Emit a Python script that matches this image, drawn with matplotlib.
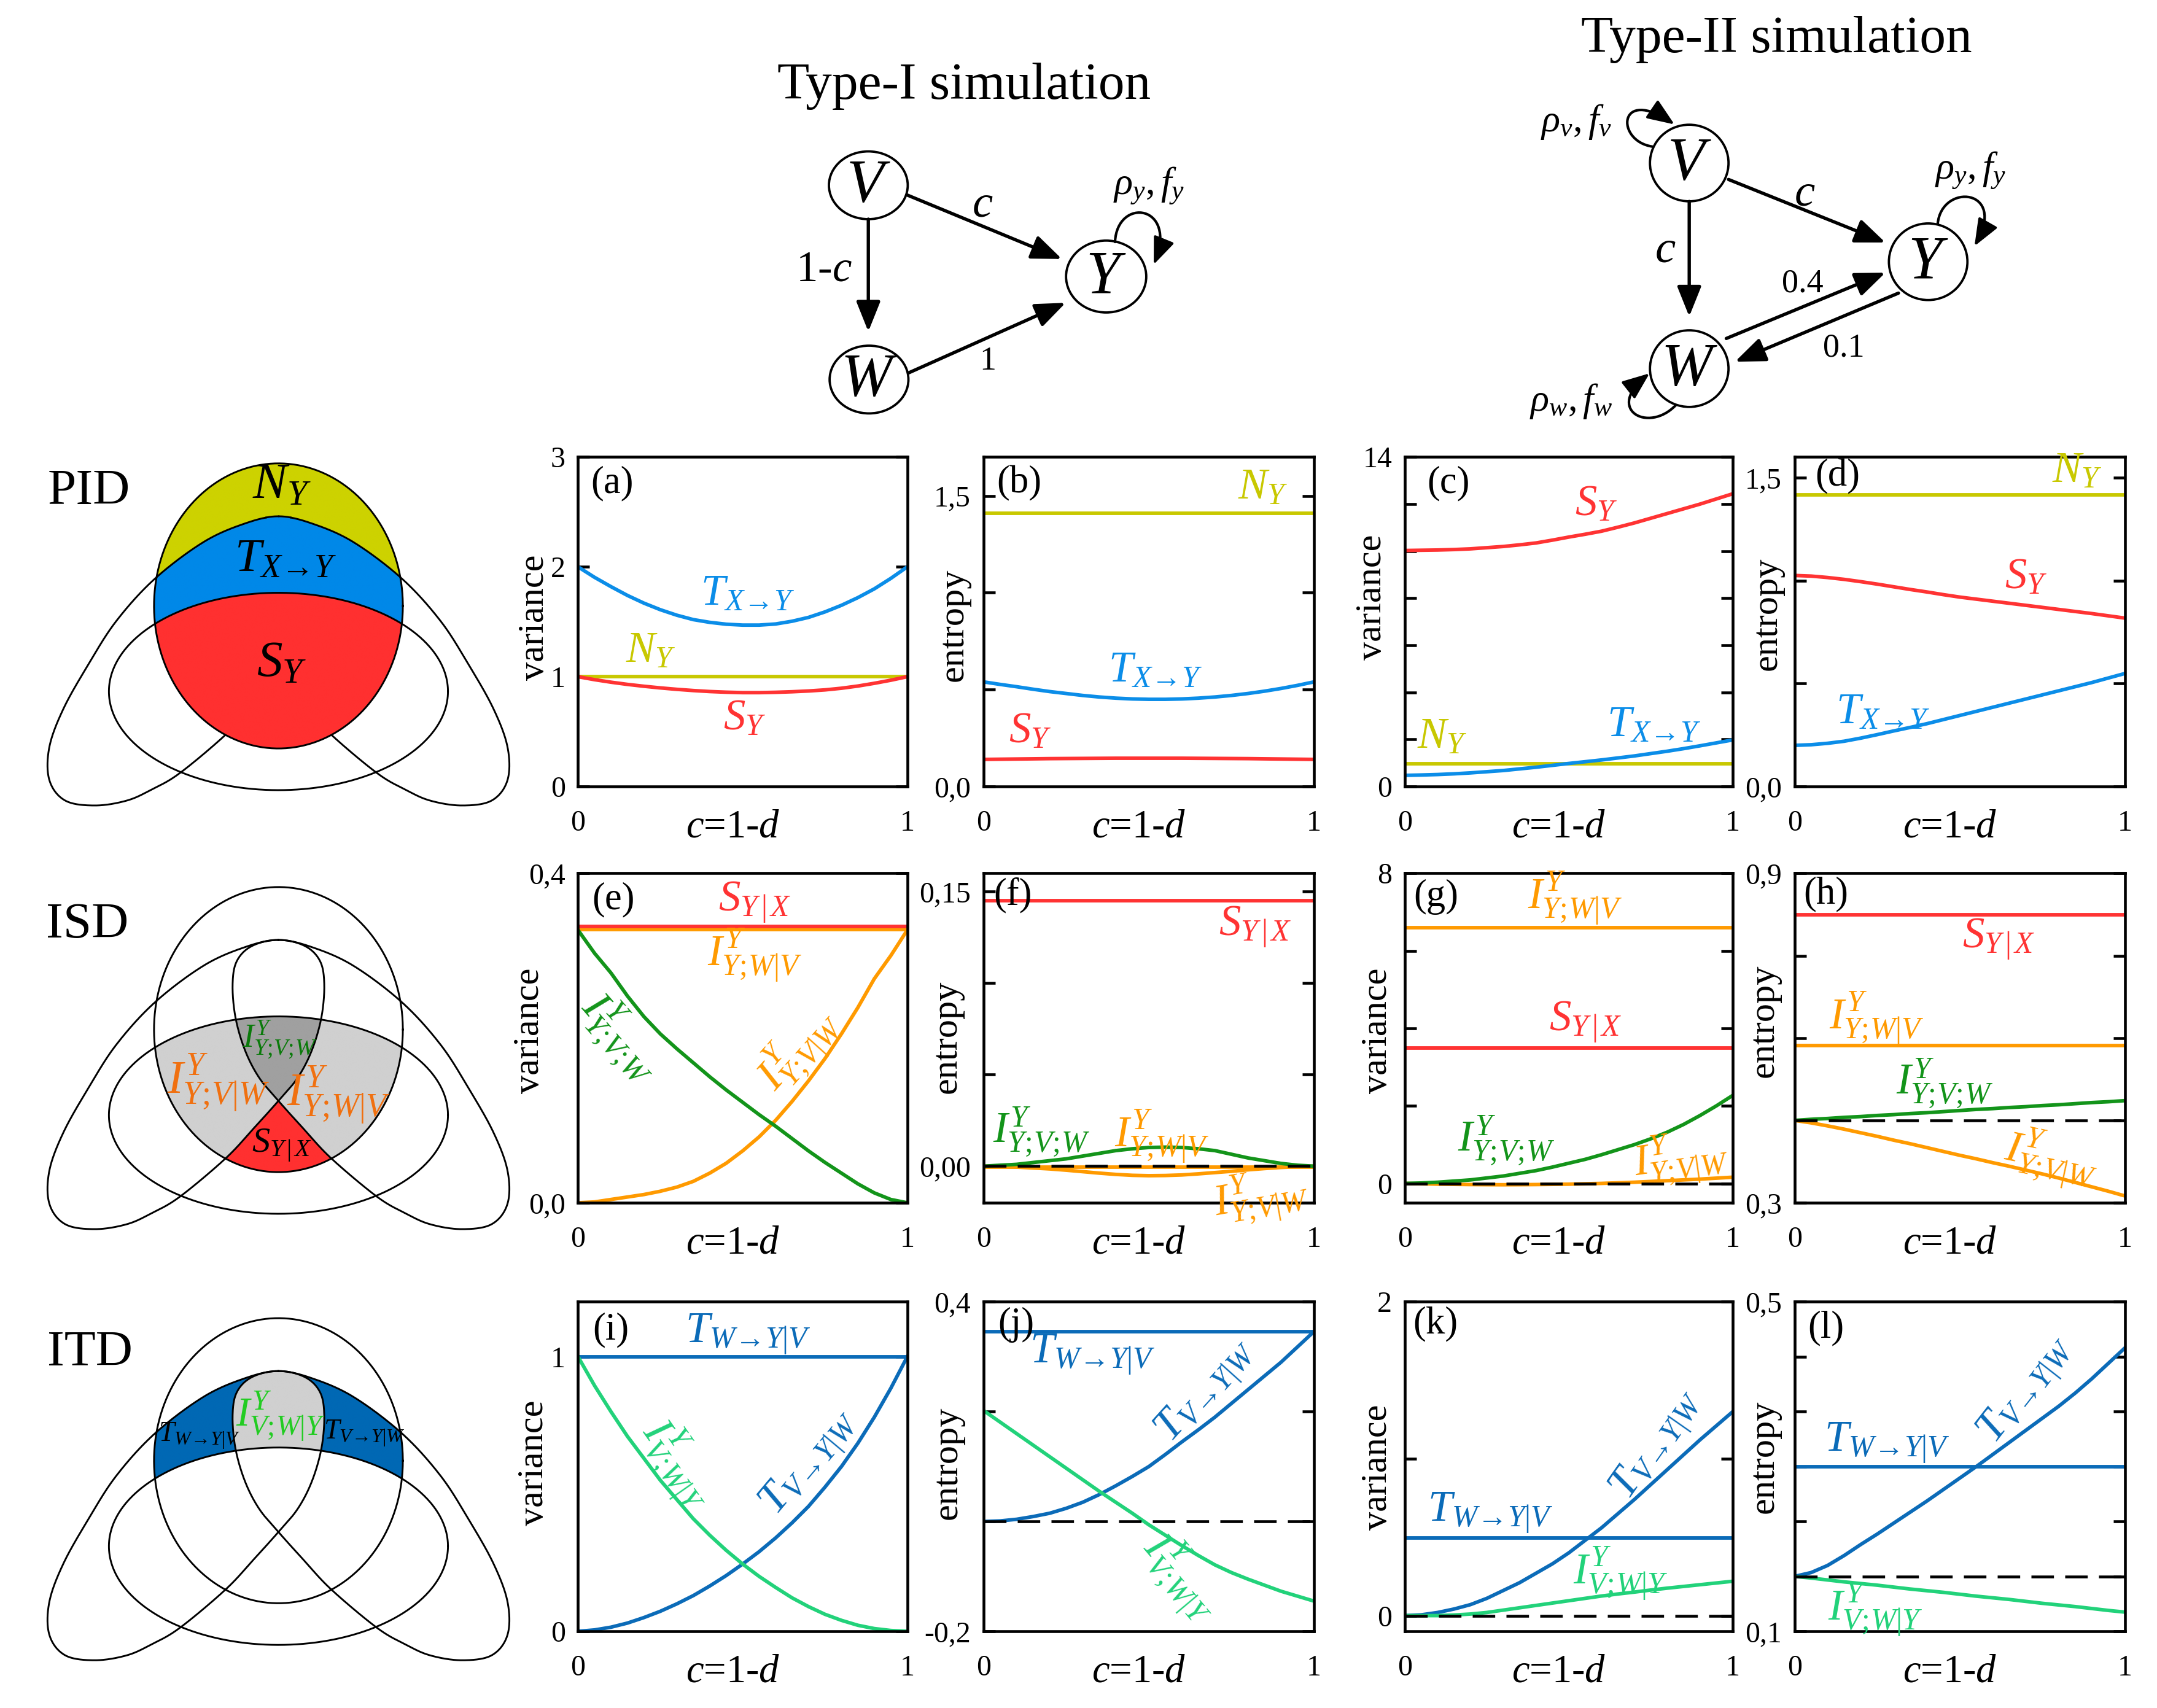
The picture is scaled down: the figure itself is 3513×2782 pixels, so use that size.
import numpy as np
import matplotlib
matplotlib.use('Agg')
import matplotlib.pyplot as plt
from matplotlib.path import Path
from matplotlib.patches import Ellipse, FancyArrowPatch
from matplotlib.colors import to_rgba

plt.rcParams['font.family'] = ['Liberation Serif', 'DejaVu Serif']
plt.rcParams['mathtext.fontset'] = 'custom'
plt.rcParams['mathtext.rm'] = 'Liberation Serif'
plt.rcParams['mathtext.it'] = 'Liberation Serif:italic'
plt.rcParams['mathtext.bf'] = 'Liberation Serif:bold'

# ---------------- data (x axis: c = 1-d) ----------------
c = [0.0, 0.05, 0.1, 0.15, 0.2, 0.25, 0.3, 0.35, 0.4, 0.45, 0.5,
     0.55, 0.6, 0.65, 0.7, 0.75, 0.8, 0.85, 0.9, 0.95, 1.0]

# Type-I, PID
a_T = [2.0, 1.905, 1.82, 1.74, 1.67, 1.61, 1.56, 1.52, 1.495, 1.478, 1.47,
       1.47, 1.48, 1.505, 1.54, 1.59, 1.65, 1.72, 1.80, 1.895, 2.0]
a_S = [1.0, 0.973, 0.95, 0.93, 0.913, 0.898, 0.885, 0.874, 0.865, 0.859, 0.855,
       0.855, 0.858, 0.863, 0.87, 0.88, 0.895, 0.915, 0.94, 0.968, 1.0]
a_N = 1.0
b_T = [0.54, 0.527, 0.515, 0.502, 0.49, 0.48, 0.47, 0.462, 0.456, 0.452, 0.45,
       0.45, 0.452, 0.456, 0.462, 0.47, 0.48, 0.492, 0.506, 0.522, 0.54]
b_S = [0.14, 0.141, 0.142, 0.143, 0.144, 0.1445, 0.145, 0.1455, 0.146, 0.146, 0.146,
       0.146, 0.146, 0.1455, 0.145, 0.1445, 0.144, 0.143, 0.142, 0.141, 0.14]
b_N = 1.41
# Type-II, PID
c_S = [10.03, 10.04, 10.05, 10.07, 10.1, 10.15, 10.2, 10.27, 10.35, 10.47, 10.6,
       10.72, 10.85, 11.02, 11.2, 11.4, 11.6, 11.8, 12.0, 12.22, 12.44]
c_T = [0.475, 0.49, 0.51, 0.54, 0.58, 0.63, 0.68, 0.75, 0.82, 0.90, 0.98,
       1.055, 1.13, 1.215, 1.30, 1.40, 1.50, 1.61, 1.73, 1.855, 1.98]
c_N = 0.98
d_S = [1.025, 1.022, 1.015, 1.006, 0.995, 0.983, 0.97, 0.957, 0.945, 0.932, 0.92,
       0.91, 0.90, 0.89, 0.88, 0.87, 0.86, 0.85, 0.84, 0.829, 0.818]
d_T = [0.20, 0.203, 0.21, 0.22, 0.235, 0.252, 0.27, 0.287, 0.305, 0.325, 0.345,
       0.365, 0.385, 0.405, 0.425, 0.445, 0.465, 0.485, 0.505, 0.527, 0.549]
d_N = 1.418
# Type-I, ISD
e_S = 0.3354
e_IWV = 0.3315
e_IVW = [0.0, 0.001, 0.004, 0.007, 0.010, 0.014, 0.019, 0.026, 0.036, 0.048, 0.063,
         0.08, 0.10, 0.123, 0.148, 0.175, 0.205, 0.237, 0.272, 0.30, 0.331]
e_IVxW = [0.331, 0.303, 0.279, 0.251, 0.226, 0.205, 0.187, 0.17, 0.153, 0.137, 0.122,
          0.107, 0.093, 0.078, 0.063, 0.049, 0.036, 0.023, 0.012, 0.004, 0.0]
f_S = 0.145
f_IWV = -0.0004
f_IVW = [0.0, -0.0002, -0.0005, -0.001, -0.0015, -0.0022, -0.003, -0.0038, -0.0045, -0.005, -0.0052,
         -0.0051, -0.0048, -0.0042, -0.0035, -0.0028, -0.002, -0.0013, -0.0007, -0.0003, 0.0]
f_IVxW = [0.0, 0.0005, 0.001, 0.002, 0.003, 0.004, 0.0055, 0.007, 0.0085, 0.0095, 0.0102,
          0.0104, 0.0102, 0.0095, 0.0085, 0.0065, 0.0045, 0.003, 0.0015, 0.0005, 0.0]
# Type-II, ISD
g_IWV = 6.59
g_S = 3.50
g_IVxW = [0.0, 0.01, 0.03, 0.06, 0.09, 0.14, 0.19, 0.26, 0.33, 0.42, 0.52,
          0.62, 0.74, 0.87, 1.0, 1.15, 1.32, 1.52, 1.75, 2.0, 2.27]
g_IVW = [0.0, -0.01, -0.02, -0.025, -0.03, -0.033, -0.035, -0.033, -0.03, -0.025, -0.02,
         -0.01, 0.0, 0.015, 0.03, 0.05, 0.07, 0.09, 0.11, 0.135, 0.16]
h_S = 0.749
h_IWV = 0.273
h_IVxW = [0.0, 0.004, 0.007, 0.011, 0.014, 0.018, 0.021, 0.025, 0.028, 0.032, 0.036,
          0.040, 0.043, 0.047, 0.050, 0.054, 0.057, 0.061, 0.065, 0.068, 0.072]
h_IVW = [0.0, -0.009, -0.02, -0.032, -0.045, -0.058, -0.072, -0.085, -0.099, -0.113, -0.127,
         -0.14, -0.154, -0.167, -0.181, -0.195, -0.21, -0.226, -0.242, -0.258, -0.275]
# Type-I, ITD
i_TW = 1.0
i_TV = [0.0, 0.005, 0.015, 0.03, 0.05, 0.073, 0.10, 0.13, 0.165, 0.203, 0.245,
        0.29, 0.34, 0.395, 0.455, 0.525, 0.60, 0.685, 0.78, 0.885, 1.0]
i_I = [1.0, 0.895, 0.80, 0.71, 0.63, 0.55, 0.48, 0.41, 0.35, 0.295, 0.245,
       0.20, 0.16, 0.122, 0.09, 0.062, 0.04, 0.022, 0.01, 0.003, 0.0]
j_TW = 0.346
j_TV = [0.0, 0.001, 0.004, 0.009, 0.015, 0.024, 0.035, 0.049, 0.065, 0.082, 0.10,
        0.122, 0.145, 0.167, 0.19, 0.215, 0.24, 0.265, 0.29, 0.318, 0.346]
j_I = [0.202, 0.181, 0.16, 0.139, 0.118, 0.097, 0.076, 0.055, 0.035, 0.015, -0.006,
       -0.025, -0.044, -0.062, -0.079, -0.093, -0.105, -0.116, -0.127, -0.136, -0.145]
# Type-II, ITD
k_TW = 0.495
k_TV = [0.0, 0.005, 0.02, 0.042, 0.07, 0.11, 0.16, 0.21, 0.27, 0.33, 0.40,
        0.48, 0.56, 0.65, 0.74, 0.835, 0.93, 1.025, 1.12, 1.21, 1.30]
k_I = [0.0, 0.0, 0.0, 0.004, 0.01, 0.02, 0.035, 0.05, 0.065, 0.08, 0.095,
       0.11, 0.125, 0.138, 0.15, 0.163, 0.175, 0.186, 0.197, 0.208, 0.219]
l_TW = 0.2
l_TV = [0.0, 0.007, 0.02, 0.038, 0.058, 0.077, 0.097, 0.117, 0.137, 0.158, 0.179,
        0.2, 0.222, 0.244, 0.266, 0.288, 0.31, 0.334, 0.36, 0.388, 0.416]
l_I = [0.0, -0.003, -0.0065, -0.01, -0.013, -0.016, -0.0195, -0.023, -0.026, -0.029, -0.0325,
       -0.036, -0.039, -0.042, -0.0455, -0.049, -0.052, -0.055, -0.0585, -0.062, -0.065]

# ---------------- styles ----------------
RED = '#ff3333'
PBLUE = '#0b8de8'
YEL = '#c8c800'
ORANGE = '#ff9a00'
DGREEN = '#13941a'
TBLUE = '#0b6bb8'
LGREEN = '#22d27a'
LW = 1.4
LBL = 17

fig = plt.figure(figsize=(3513 / 300, 2782 / 300), dpi=300)

# overlay in "display pixel" units for the diagrams
ov = fig.add_axes([0, 0, 1, 1])
ov.set_xlim(0, 1560)
ov.set_ylim(1235.3, 0)
ov.axis('off')

# ---------------- network diagrams ----------------
ARW = '-|>,head_length=0.5,head_width=0.2'


def node(x, y, name, rx, ry):
    ov.add_patch(Ellipse((x, y), 2 * rx, 2 * ry, fill=False, lw=0.9, ec='k'))
    ov.text(x, y + 1, '$%s$' % name, fontsize=24, ha='center', va='center')


def arrow(p, q):
    ov.add_patch(FancyArrowPatch(p, q, arrowstyle=ARW, mutation_scale=20,
                                 lw=1.3, color='k', shrinkA=0, shrinkB=0))


def loop(p0, p1, p2, p3):
    path = Path([p0, p1, p2, p3], [Path.MOVETO, Path.CURVE4, Path.CURVE4, Path.CURVE4])
    ov.add_patch(FancyArrowPatch(path=path, arrowstyle=ARW, mutation_scale=18,
                                 lw=1.0, color='k'))


ov.text(697, 71.4, 'Type-I simulation', fontsize=20.5, ha='center', va='baseline')
node(628, 134, 'V', 28.5, 24.5)
node(628.5, 274.5, 'W', 28.5, 24.5)
node(800, 200, 'Y', 29, 26)
arrow((656, 141), (768, 187.3))
arrow((628, 158.5), (628, 239.8))
arrow((657.3, 269.6), (770.7, 219))
loop((806.4, 175), (808, 142), (852, 148), (834.4, 191.3))
ov.text(710.8, 148.7, '$c$', fontsize=18, ha='center', va='center')
ov.text(596, 195.2, '$1$-$c$', fontsize=17, ha='center', va='center')
ov.text(714.6, 261.6, '1', fontsize=13, ha='center', va='center')
ov.text(831, 134, r'$\rho_y, f_y$', fontsize=15, ha='center', va='center')

ov.text(1284.8, 37.7, 'Type-II simulation', fontsize=20.5, ha='center', va='baseline')
node(1221.7, 117.9, 'V', 28.4, 27.7)
node(1221.7, 266.6, 'W', 28.4, 27.7)
node(1394.5, 189.3, 'Y', 28.4, 27.7)
arrow((1250.1, 129.8), (1363.6, 175.4))
arrow((1221.7, 145.7), (1221.7, 228.9))
arrow((1248.5, 244.8), (1363.6, 197.2))
arrow((1373, 212), (1254.8, 261.6))
loop((1195, 106), (1168, 102), (1170, 62), (1211, 90))
loop((1212, 293), (1192, 314), (1160, 296), (1193, 270))
loop((1401.4, 162), (1404, 132), (1452, 136), (1428, 178))
ov.text(1305.3, 140.7, '$c$', fontsize=18, ha='center', va='center')
ov.text(1204.4, 181.4, '$c$', fontsize=18, ha='center', va='center')
ov.text(1303.7, 205.1, '0.4', fontsize=13, ha='center', va='center')
ov.text(1333.6, 251.7, '0.1', fontsize=13, ha='center', va='center')
ov.text(1140, 88, r'$\rho_v, f_v$', fontsize=15, ha='center', va='center')
ov.text(1136, 290, r'$\rho_w, f_w$', fontsize=15, ha='center', va='center')
ov.text(1425, 123, r'$\rho_y, f_y$', fontsize=15, ha='center', va='center')

# ---------------- Venn-type diagrams ----------------
SX, SY = 0.2549, 0.19825
EGG = (790, 665, 353, 520)
HOR = (790, 977, 481, 360)
PETAL_R = [(790, 338), (880, 362), (1000, 430), (1140, 565), (1250, 720), (1330, 880),
           (1400, 1040), (1440, 1180), (1440, 1300), (1395, 1375), (1310, 1393),
           (1220, 1375), (1150, 1335), (1070, 1275), (940, 1135), (860, 1025),
           (790, 925), (735, 840), (695, 740), (668, 620), (660, 500), (672, 415),
           (715, 360)]


def ellipse_pts(cx, cy, rx, ry, n=500):
    t = np.linspace(0, 2 * np.pi, n)
    return np.column_stack([cx + rx * np.cos(t), cy + ry * np.sin(t)])


def closed_spline(pts, n=40):
    pts = np.asarray(pts, float)
    P = np.vstack([pts[-1], pts, pts[0], pts[1]])
    t = np.linspace(0, 1, n, endpoint=False)[:, None]
    segs = []
    for i in range(1, len(pts) + 1):
        p0, p1, p2, p3 = P[i - 1], P[i], P[i + 1], P[i + 2]
        segs.append(0.5 * (2 * p1 + (-p0 + p2) * t + (2 * p0 - 5 * p1 + 4 * p2 - p3) * t ** 2
                           + (-p0 + 3 * p1 - 3 * p2 + p3) * t ** 3))
    out = np.vstack(segs)
    return np.vstack([out, out[:1]])


def venn(y0, kind):
    def disp(p):
        return np.column_stack([p[:, 0] * SX, y0 + p[:, 1] * SY])
    E = disp(ellipse_pts(*EGG))
    Hh = disp(ellipse_pts(*HOR))
    Rl = closed_spline(PETAL_R)
    Ll = Rl.copy()
    Ll[:, 0] = 1580 - Ll[:, 0]
    R = disp(Rl)
    L = disp(Ll)
    pE, pH, pR, pL = Path(E), Path(Hh), Path(R), Path(L)

    xs = np.linspace(105, 298, 640)
    ys = np.linspace(y0 + 22, y0 + 242, 740)
    X, Y = np.meshgrid(xs, ys)
    P = np.column_stack([X.ravel(), Y.ravel()])
    inE = pE.contains_points(P).reshape(X.shape)
    inH = pH.contains_points(P).reshape(X.shape)
    inR = pR.contains_points(P).reshape(X.shape)
    inL = pL.contains_points(P).reshape(X.shape)
    img = np.zeros(X.shape + (4,))
    if kind == 'PID':
        img[inE & ~inH & ~(inR | inL)] = to_rgba('#cdd200')
        img[inE & ~inH & (inR | inL)] = to_rgba('#0088e8')
        img[inE & inH] = to_rgba('#ff3030')
    elif kind == 'ISD':
        img[inE & inH & (inR ^ inL)] = to_rgba('#d0d0d0')
        img[inE & inH & inR & inL] = to_rgba('#a0a0a0')
        img[inE & inH & ~inR & ~inL] = to_rgba('#ff3030')
    else:
        img[inE & ~inH & (inR ^ inL)] = to_rgba('#0068b4')
        img[inE & ~inH & inR & inL] = to_rgba('#d0d0d0')
    ov.imshow(img, extent=(xs[0], xs[-1], ys[-1], ys[0]), origin='upper',
              aspect='auto', zorder=1)

    for curve, other in ((R, pL), (L, pR)):
        cv = curve.copy()
        if kind == 'PID':
            hide = pE.contains_points(cv) & (other.contains_points(cv) | pH.contains_points(cv))
            cv[hide] = np.nan
        ov.plot(cv[:, 0], cv[:, 1], color='k', lw=0.7, zorder=2)
    ov.plot(E[:, 0], E[:, 1], color='k', lw=0.7, zorder=2)
    ov.plot(Hh[:, 0], Hh[:, 1], color='k', lw=0.7, zorder=2)


venn(306.4, 'PID')
venn(612.8, 'ISD')
venn(924.6, 'ITD')

ov.text(64.2, 364.4, 'PID', fontsize=20, ha='center', va='baseline')
ov.text(63, 678.2, 'ISD', fontsize=20, ha='center', va='baseline')
ov.text(65, 987.4, 'ITD', fontsize=20, ha='center', va='baseline')

# label strings (literal arrow avoids mathtext relation spacing, \! removes ';' spacing)
TXY = r'$T_{X→Y}$'
SYX = r'$S_{Y\,|\,X}$'
IWV = r'$I^{Y}_{Y;\!W|V}$'
IVW = r'$I^{Y}_{Y;\!V|W}$'
IVxW = r'$I^{Y}_{Y;\!V;\!W}$'
TW = r'$T_{W→Y|V}$'
TV = r'$T_{V→Y|W}$'
IVWY = r'$I^{Y}_{V;\!W|Y}$'

ov.text(203.9, 351.6, '$N_Y$', fontsize=20, ha='center', va='center', zorder=3)
ov.text(206.5, 405.1, TXY, fontsize=18.5, ha='center', va='center', zorder=3)
ov.text(203.9, 480.4, '$S_Y$', fontsize=20, ha='center', va='center', zorder=3)

ov.text(202.6, 751.6, IVxW, fontsize=13, color='#0a7a0a', ha='center', va='center', zorder=3)
ov.text(158, 783.3, IVW, fontsize=18.5, color='#f07010', ha='center', va='center', zorder=3)
ov.text(244.7, 792.2, IWV, fontsize=18.5, color='#f07010', ha='center', va='center', zorder=3)
ov.text(203.9, 828.9, SYX, fontsize=14, ha='center', va='center', zorder=3)

ov.text(144, 1038.6, TW, fontsize=11, ha='center', va='center', zorder=3)
ov.text(202.6, 1024.7, IVWY, fontsize=16, color='#22cc22', ha='center', va='center', zorder=3)
ov.text(263.5, 1036.6, TV, fontsize=11, ha='center', va='center', zorder=3)

# ---------------- panels ----------------
COLS = [(0.2680, 0.1526), (0.4560, 0.1532), (0.6513, 0.1520), (0.8320, 0.1531)]
ROWS = [0.5395, 0.2958, 0.0449]
H_AX = 0.1929


def panel(col, row, ylim, yticks, ylabels, ylab, ylab_xy, letter, letter_xy):
    l, w = COLS[col]
    ax = fig.add_axes([l, ROWS[row], w, H_AX])
    ax.set_xlim(0, 1)
    ax.set_ylim(*ylim)
    ax.set_xticks([0, 1])
    ax.set_xticklabels(['0', '1'])
    ax.set_yticks(yticks)
    ax.set_yticklabels(ylabels)
    ax.tick_params(axis='x', length=0, pad=9, labelsize=11.5)
    ax.tick_params(axis='y', direction='in', left=True, right=True, length=4.5,
                   width=1.1, pad=5, labelsize=11.5)
    for s in ax.spines.values():
        s.set_linewidth(1.1)
    ax.text(ylab_xy[0], ylab_xy[1], ylab, rotation=90, fontsize=14.5,
            ha='center', va='center', transform=ax.transAxes)
    ax.text(0.47, -0.125, '$c$=1-$d$', fontsize=15.5, ha='center', va='center',
            transform=ax.transAxes)
    ax.text(letter_xy[0], letter_xy[1], letter, fontsize=15, ha='left', va='center',
            transform=ax.transAxes)
    return ax


def lab(ax, x, y, s, col, rot=0, size=LBL):
    ax.text(x, y, s, color=col, fontsize=size, ha='center', va='center',
            rotation=rot, rotation_mode='anchor')


def zero(ax):
    ax.axhline(0, color='k', lw=1.1, ls=(0, (8, 4)), zorder=3)


# (a)
ax = panel(0, 0, (0, 3), [0, 1, 2, 3], ['0', '1', '2', '3'], 'variance', (-0.131, 0.513), '(a)', (0.038, 0.919))
ax.axhline(a_N, color=YEL, lw=LW)
ax.plot(c, a_S, color=RED, lw=LW)
ax.plot(c, a_T, color=PBLUE, lw=LW)
lab(ax, 0.515, 1.75, TXY, PBLUE)
lab(ax, 0.22, 1.23, '$N_Y$', YEL)
lab(ax, 0.506, 0.62, '$S_Y$', RED)

# (b)
ax = panel(1, 0, (0, 1.7), [0, 0.5, 1.0, 1.5], ['0,0', '', '', '1,5'], 'entropy', (-0.089, 0.49), '(b)', (0.04, 0.92))
ax.axhline(b_N, color=YEL, lw=LW)
ax.plot(c, b_T, color=PBLUE, lw=LW)
ax.plot(c, b_S, color=RED, lw=LW)
lab(ax, 0.846, 1.54, '$N_Y$', YEL)
lab(ax, 0.52, 0.597, TXY, PBLUE)
lab(ax, 0.14, 0.284, '$S_Y$', RED)

# (c)
ax = panel(2, 0, (0, 14), list(range(0, 15, 2)), ['0', '', '', '', '', '', '', '14'], 'variance', (-0.099, 0.574), '(c)', (0.067, 0.919))
ax.plot(c, c_S, color=RED, lw=LW)
ax.axhline(c_N, color=YEL, lw=LW)
ax.plot(c, c_T, color=PBLUE, lw=LW)
lab(ax, 0.583, 12.0, '$S_Y$', RED)
lab(ax, 0.113, 2.1, '$N_Y$', YEL)
lab(ax, 0.76, 2.6, TXY, PBLUE)

# (d)
ax = panel(3, 0, (0, 1.6), [0, 0.5, 1.0, 1.5], ['0,0', '', '', '1,5'], 'entropy', (-0.083, 0.524), '(d)', (0.062, 0.94))
ax.axhline(d_N, color=YEL, lw=LW)
ax.plot(c, d_S, color=RED, lw=LW)
ax.plot(c, d_T, color=PBLUE, lw=LW)
lab(ax, 0.855, 1.53, '$N_Y$', YEL)
lab(ax, 0.70, 1.016, '$S_Y$', RED)
lab(ax, 0.268, 0.358, TXY, PBLUE)

# (e)
ax = panel(0, 1, (0, 0.4), [0, 0.4], ['0,0', '0,4'], 'variance', (-0.147, 0.522), '(e)', (0.042, 0.919))
ax.axhline(e_IWV, color=ORANGE, lw=LW)
ax.axhline(e_S, color=RED, lw=LW)
ax.plot(c, e_IVW, color=ORANGE, lw=LW)
ax.plot(c, e_IVxW, color=DGREEN, lw=LW)
lab(ax, 0.537, 0.364, SYX, RED)
lab(ax, 0.537, 0.300, IWV, ORANGE)
lab(ax, 0.127, 0.20, IVxW, DGREEN, rot=-49)
lab(ax, 0.673, 0.185, IVW, ORANGE, rot=48)

# (f)
ax = panel(1, 1, (-0.02, 0.16), [0, 0.05, 0.10, 0.15], ['0,00', '', '', '0,15'], 'entropy', (-0.110, 0.504), '(f)', (0.031, 0.934))
ax.axhline(f_S, color=RED, lw=LW)
ax.axhline(f_IWV, color=ORANGE, lw=LW)
ax.plot(c, f_IVW, color=ORANGE, lw=LW)
ax.plot(c, f_IVxW, color=DGREEN, lw=LW)
zero(ax)
lab(ax, 0.823, 0.1305, SYX, RED)
lab(ax, 0.176, 0.0188, IVxW, DGREEN)
lab(ax, 0.539, 0.016, IWV, ORANGE)
lab(ax, 0.84, -0.0171, IVW, ORANGE, rot=10)

# (g)
ax = panel(2, 1, (-0.5, 8), [0, 2, 4, 6, 8], ['0', '', '', '', '8'], 'variance', (-0.083, 0.522), '(g)', (0.027, 0.929))
ax.axhline(g_IWV, color=ORANGE, lw=LW)
ax.axhline(g_S, color=RED, lw=LW)
ax.plot(c, g_IVW, color=ORANGE, lw=LW)
ax.plot(c, g_IVxW, color=DGREEN, lw=LW)
zero(ax)
lab(ax, 0.52, 7.35, IWV, ORANGE)
lab(ax, 0.552, 4.15, SYX, RED)
lab(ax, 0.309, 1.11, IVxW, DGREEN)
lab(ax, 0.842, 0.63, IVW, ORANGE, rot=8)

# (h)
ax = panel(3, 1, (-0.3, 0.9), [-0.3, 0, 0.3, 0.6, 0.9], ['0,3', '', '', '', '0,9'], 'entropy', (-0.091, 0.552), '(h)', (0.026, 0.937))
ax.axhline(h_S, color=RED, lw=LW)
ax.axhline(h_IWV, color=ORANGE, lw=LW)
ax.plot(c, h_IVW, color=ORANGE, lw=LW)
ax.plot(c, h_IVxW, color=DGREEN, lw=LW)
zero(ax)
lab(ax, 0.618, 0.659, SYX, RED)
lab(ax, 0.248, 0.371, IWV, ORANGE)
lab(ax, 0.455, 0.135, IVxW, DGREEN)
lab(ax, 0.777, -0.142, IVW, ORANGE, rot=-12)

# (i)
ax = panel(0, 2, (0, 1.2), [0, 1], ['0', '1'], 'variance', (-0.133, 0.511), '(i)', (0.044, 0.914))
ax.axhline(i_TW, color=TBLUE, lw=LW)
ax.plot(c, i_TV, color=TBLUE, lw=LW)
ax.plot(c, i_I, color=LGREEN, lw=LW)
lab(ax, 0.516, 1.08, TW, TBLUE)
lab(ax, 0.30, 0.608, IVWY, LGREEN, rot=-55)
lab(ax, 0.705, 0.611, TV, TBLUE, rot=50)

# (j)
ax = panel(1, 2, (-0.2, 0.4), [-0.2, 0, 0.2, 0.4], ['-0,2', '', '', '0,4'], 'entropy', (-0.108, 0.511), '(j)', (0.044, 0.931))
ax.axhline(j_TW, color=TBLUE, lw=LW)
ax.plot(c, j_TV, color=TBLUE, lw=LW)
ax.plot(c, j_I, color=LGREEN, lw=LW)
zero(ax)
lab(ax, 0.33, 0.304, TW, TBLUE)
lab(ax, 0.676, 0.236, TV, TBLUE, rot=48)
lab(ax, 0.595, -0.103, IVWY, LGREEN, rot=-50)

# (k)
ax = panel(2, 2, (-0.1, 2), [0, 1, 2], ['0', '', '2'], 'variance', (-0.083, 0.499), '(k)', (0.024, 0.932))
ax.axhline(k_TW, color=TBLUE, lw=LW)
ax.plot(c, k_TV, color=TBLUE, lw=LW)
ax.plot(c, k_I, color=LGREEN, lw=LW)
zero(ax)
lab(ax, 0.262, 0.652, TW, TBLUE)
lab(ax, 0.771, 1.084, TV, TBLUE, rot=55)
lab(ax, 0.658, 0.267, IVWY, LGREEN)

# (l)
ax = panel(3, 2, (-0.1, 0.5), [-0.1, 0, 0.1, 0.2, 0.3, 0.4, 0.5], ['0,1', '', '', '', '', '', '0,5'], 'entropy', (-0.091, 0.529), '(l)', (0.039, 0.919))
ax.axhline(l_TW, color=TBLUE, lw=LW)
ax.plot(c, l_TV, color=TBLUE, lw=LW)
ax.plot(c, l_I, color=LGREEN, lw=LW)
zero(ax)
lab(ax, 0.28, 0.243, TW, TBLUE)
lab(ax, 0.704, 0.338, TV, TBLUE, rot=52)
lab(ax, 0.245, -0.061, IVWY, LGREEN)

fig.savefig('out.png', dpi=300)
